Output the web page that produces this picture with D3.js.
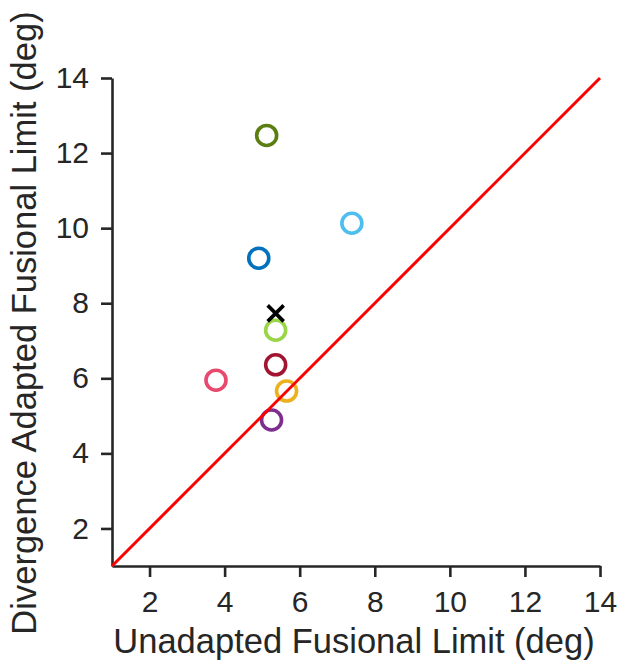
<!DOCTYPE html>
<html><head><meta charset="utf-8">
<script src="https://cdn.jsdelivr.net/npm/d3@7"></script>
<style>body{margin:0;background:#fff}</style></head>
<body><svg id="c" width="620" height="663"></svg>
<script>
const xs = [5.12, 7.39, 4.91, 5.36, 5.36, 5.65, 3.77, 5.25];
const ys = [12.47, 10.13, 9.2, 7.28, 6.36, 5.66, 5.95, 4.89];
const colors = ["#5b7e12", "#4dbeee", "#0072bd", "#9ad548", "#a2142f", "#edb120", "#e8496e", "#7e2f8e"];
const meanX = [5.36];
const meanY = [7.73];
const ticks = [2, 4, 6, 8, 10, 12, 14];
const domain = [1, 14];

const svg = d3.select("#c");
const x = d3.scaleLinear().domain(domain).range([112, 600]);
const y = d3.scaleLinear().domain(domain).range([566, 78]);
const axisColor = "#262626";
const font = "Liberation Sans, Arial, Helvetica, sans-serif";

const gx = svg.append("g").attr("transform", "translate(0,566)")
  .call(d3.axisBottom(x).tickValues(ticks).tickSize(11).tickSizeOuter(0).tickPadding(14));
const gy = svg.append("g").attr("transform", "translate(112,0)")
  .call(d3.axisLeft(y).tickValues(ticks).tickSize(11).tickSizeOuter(0).tickPadding(12));
[gx, gy].forEach(g => {
  g.select(".domain").attr("stroke", axisColor).attr("stroke-width", 2.6);
  g.selectAll(".tick line").attr("stroke", axisColor).attr("stroke-width", 2.6);
  g.selectAll(".tick text").attr("fill", axisColor).attr("font-family", font).attr("font-size", 30);
});

svg.append("text").attr("x", 354).attr("y", 653).attr("text-anchor", "middle")
  .attr("font-family", font).attr("font-size", 34.5).attr("fill", axisColor)
  .text("Unadapted Fusional Limit (deg)");
svg.append("text").attr("transform", "translate(36,323) rotate(-90)").attr("text-anchor", "middle")
  .attr("font-family", font).attr("font-size", 34.5).attr("fill", axisColor)
  .text("Divergence Adapted Fusional Limit (deg)");

svg.selectAll("circle.pt").data(xs).join("circle").attr("class", "pt")
  .attr("cx", d => x(d)).attr("cy", (d, i) => y(ys[i])).attr("r", 10)
  .attr("fill", "none").attr("stroke", (d, i) => colors[i]).attr("stroke-width", 3.6);

const s = 8;
meanX.forEach((mx, i) => {
  const cx = x(mx), cy = y(meanY[i]);
  svg.append("path").attr("d", `M${cx-s},${cy-s}L${cx+s},${cy+s}M${cx-s},${cy+s}L${cx+s},${cy-s}`)
    .attr("stroke", "#000").attr("stroke-width", 3.6);
});

svg.append("line").attr("x1", x(domain[0])).attr("y1", y(domain[0]))
  .attr("x2", x(domain[1])).attr("y2", y(domain[1]))
  .attr("stroke", "#ff0000").attr("stroke-width", 3);
</script></body></html>
